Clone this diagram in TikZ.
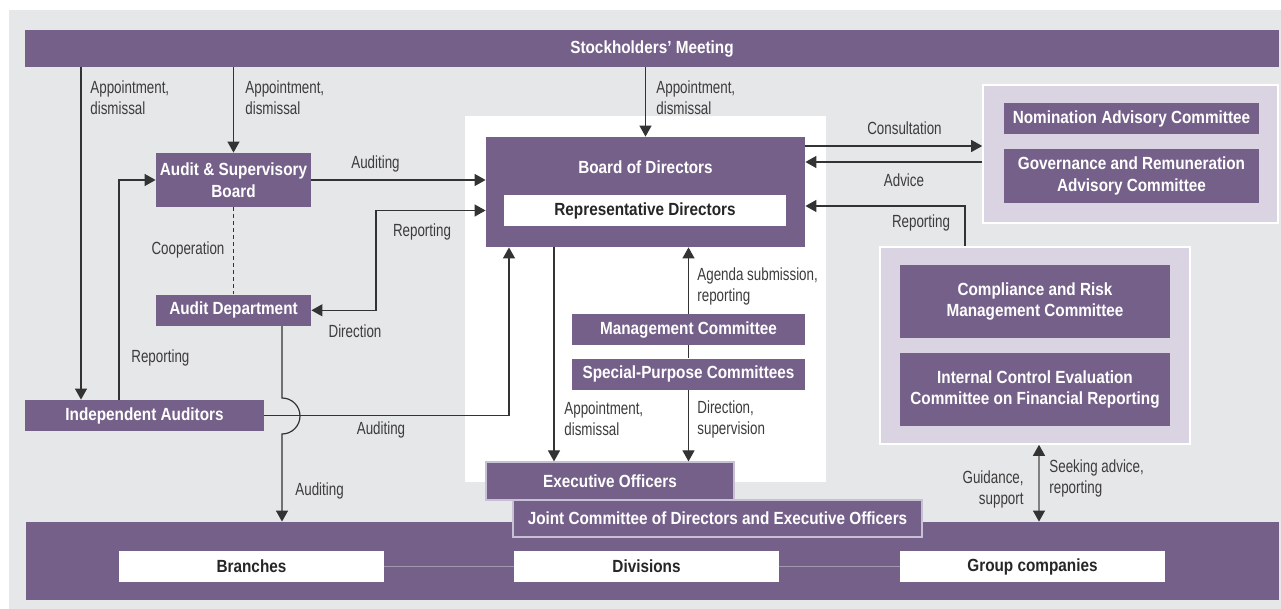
\documentclass[tikz,border=0pt]{standalone}
\usepackage{fontspec}
\newfontfamily\lblfont{Liberation Sans}[FakeStretch=0.76]
\newfontfamily\boxfont{Liberation Sans}[FakeStretch=0.87]
\usepackage{xcolor}
\usepackage{tikz}
\usetikzlibrary{arrows.meta, positioning}

\definecolor{govpurple}{RGB}{117,96,138}
\definecolor{govlilac}{RGB}{217,211,226}
\definecolor{govgray}{RGB}{230,231,233}
\definecolor{govline}{RGB}{51,51,51}
\definecolor{govtext}{RGB}{60,60,60}
\definecolor{govedge}{RGB}{200,192,212}
\definecolor{govlink}{RGB}{160,152,174}

\begin{document}
\begin{tikzpicture}[x=0.5pt, y=-0.5pt,
        box/.style={fill=govpurple, text=white, inner sep=0pt, align=center,
            font=\boxfont\bfseries\fontsize{8.8}{10.8}\selectfont},
        wbox/.style={box, fill=white, text=black!85},
        panel/.style={fill=govlilac, draw=white, line width=0.8pt, inner sep=0pt},
        lbl/.style={text=govtext, inner sep=0pt, font=\lblfont\fontsize{8.8}{10.5}\selectfont},
        arr/.style={draw=govline, line width=0.6pt, -{Triangle[length=5.5pt, width=6pt]}},
        dbl/.style={draw=gray, line width=0.6pt,
            {Triangle[length=5.5pt, width=6pt, color=govline]}-{Triangle[length=5.5pt, width=6pt, color=govline]}},
        link/.style={draw=govline, line width=0.6pt}]

        \useasboundingbox (0,0) rectangle (1281,609);
        \fill[govgray] (9,10) rectangle (1281,609);

        % panels
        \node[fill=white, inner sep=0pt, minimum width=180.5pt, minimum height=183pt] (core) at (645.5,299) {};
        \node[panel, minimum width=147.5pt, minimum height=69pt] (rp1) at (1130.5,154) {};
        \node[panel, minimum width=155pt, minimum height=98.5pt] (rp2) at (1035,345.5) {};
        \node[box, minimum width=626.5pt, minimum height=39pt] (bb) at (652.5,561) {};

        % boxes
        \node[box, minimum width=627pt, minimum height=18.5pt] (sm) at (652,48.5) {Stockholders’ Meeting};
        \node[box, minimum width=77.5pt, minimum height=27pt] (asb) at (233.5,180) {Audit \& Supervisory\\Board};
        \node[box, minimum width=77.5pt, minimum height=15.5pt, below=43.5pt of asb] (ad) {Audit Department};
        \node[box, minimum width=119.5pt, minimum height=15.5pt] (ia) at (144.5,415.5) {Independent Auditors};
        \node[box, minimum width=159.5pt, minimum height=55pt,
            label={[box, fill=none, yshift=12.5pt]center:Board of Directors}] (bod) at (645.5,192) {};
        \node[wbox, minimum width=141pt, minimum height=15.5pt] (rd) at (645,210.5) {Representative Directors};
        \node[box, minimum width=116.5pt, minimum height=15.5pt] (mc) at (688.5,329.5) {Management Committee};
        \node[box, minimum width=116.5pt, minimum height=15.5pt, below=6.5pt of mc] (spc) {Special-Purpose Committees};
        \node[box, draw=govedge, line width=0.6pt, minimum width=124pt, minimum height=19pt] (eo) at (610,481) {Executive Officers};
        \node[box, draw=govedge, line width=0.6pt, minimum width=204.5pt, minimum height=18.5pt] (jc) at (717.5,518.5) {Joint Committee of Directors and Executive Officers};
        \node[box, minimum width=127.5pt, minimum height=15.5pt] (nac) at (1131.5,118.5) {Nomination Advisory Committee};
        \node[box, minimum width=127.5pt, minimum height=27pt] (grac) at (1131.5,176) {Governance and Remuneration\\Advisory Committee};
        \node[box, minimum width=135pt, minimum height=36.5pt] (crmc) at (1035,301.5) {Compliance and Risk\\Management Committee};
        \node[box, minimum width=135pt, minimum height=36.5pt, below=7pt of crmc] (icec) {Internal Control Evaluation\\Committee on Financial Reporting};

        \draw[govlink, line width=0.8pt] (251.5,566.5) -- (1032.5,566.5);
        \node[wbox, minimum width=132.5pt, minimum height=15.5pt] (br) at (251.5,566.5) {Branches};
        \node[wbox, minimum width=132.5pt, minimum height=15.5pt] (dv) at (646.5,566.5) {Divisions};
        \node[wbox, minimum width=132.5pt, minimum height=15.5pt] (gc) at (1032.5,566.5) {Group companies};

        % where the lines run
        \coordinate (kIA) at (81,0);
        \coordinate (kRep) at (119,0);
        \coordinate (kDir) at (376,0);
        \coordinate (kJump) at (282,0);
        \coordinate (kAud) at (509,0);
        \coordinate (kApp) at (554,0);
        \coordinate (kRisk) at (965,0);
        \coordinate (kGuide) at (1039,0);
        \coordinate (yCons) at (0,146);
        \coordinate (yAdv) at (0,162);
        \coordinate (yRep) at (0,206);

        \draw[arr] (sm.south -| kIA) -- (ia.north -| kIA);
        \draw[arr] (sm.south -| asb.north) -- (asb.north);
        \draw[arr] (sm.south -| bod.north) -- (bod.north);
        \draw[arr] (ia.north -| kRep) |- (asb.west);
        \draw[arr] (asb.east) -- (asb.east -| bod.west);
        \draw[dbl, draw=govline] (ad.east) -| (kDir |- rd.west) -- (rd.west -| bod.west);
        \draw[link, dash pattern=on 2pt off 1.5pt] (asb.south) -- (ad.north);
        \draw[arr] (ad.south -| kJump) -- (282,398) arc[start angle=-90, end angle=90, radius=18] -- (bb.north -| kJump);
        \draw[arr] (ia.east) -| (kAud |- bod.south);
        \draw[arr] (bod.south -| kApp) -- (eo.north -| kApp);
        \draw[arr] (mc.north) -- (mc.north |- bod.south);
        \draw[link] (mc.south) -- (spc.north);
        \draw[arr] (spc.south) -- (spc.south |- eo.north);
        \draw[arr] (bod.east |- yCons) -- (rp1.west |- yCons);
        \draw[arr] (rp1.west |- yAdv) -- (bod.east |- yAdv);
        \draw[arr] (rp2.north -| kRisk) |- (bod.east |- yRep);
        \draw[dbl] (rp2.south -| kGuide) -- (bb.north -| kGuide);

        % labels
        \node[lbl, anchor=west, align=left] (lApp1) at (90,97.5) {Appointment,\\dismissal};
        \node[lbl, anchor=west, align=left] (lApp2) at (245,97.5) {Appointment,\\dismissal};
        \node[lbl, anchor=west, align=left] (lApp3) at (656,97.5) {Appointment,\\dismissal};
        \node[lbl] (lAud1) at (375.5,164) {Auditing};
        \node[lbl] (lRep2) at (422,232) {Reporting};
        \node[lbl] (lCoop) at (188,250) {Cooperation};
        \node[lbl] (lDir) at (355,331) {Direction};
        \node[lbl, anchor=west] (lRep1) at (131,358) {Reporting};
        \node[lbl] (lAud2) at (381,430) {Auditing};
        \node[lbl, anchor=west] (lAud3) at (295,491) {Auditing};
        \node[lbl, anchor=west, align=left] (lAgenda) at (697,286) {Agenda submission,\\reporting};
        \node[lbl, anchor=west, align=left] (lApp4) at (564,419) {Appointment,\\dismissal};
        \node[lbl, anchor=west, align=left] (lDirSup) at (697,419) {Direction,\\supervision};
        \node[lbl] (lCons) at (904.5,128) {Consultation};
        \node[lbl] (lAdv) at (904,180) {Advice};
        \node[lbl] (lRep3) at (921,223) {Reporting};
        \node[lbl, anchor=east, align=right] (lGuide) at (1024,489.5) {Guidance,\\support};
        \node[lbl, anchor=west, align=left] (lSeek) at (1049,478) {Seeking advice,\\reporting};

    \end{tikzpicture}
\end{document}
